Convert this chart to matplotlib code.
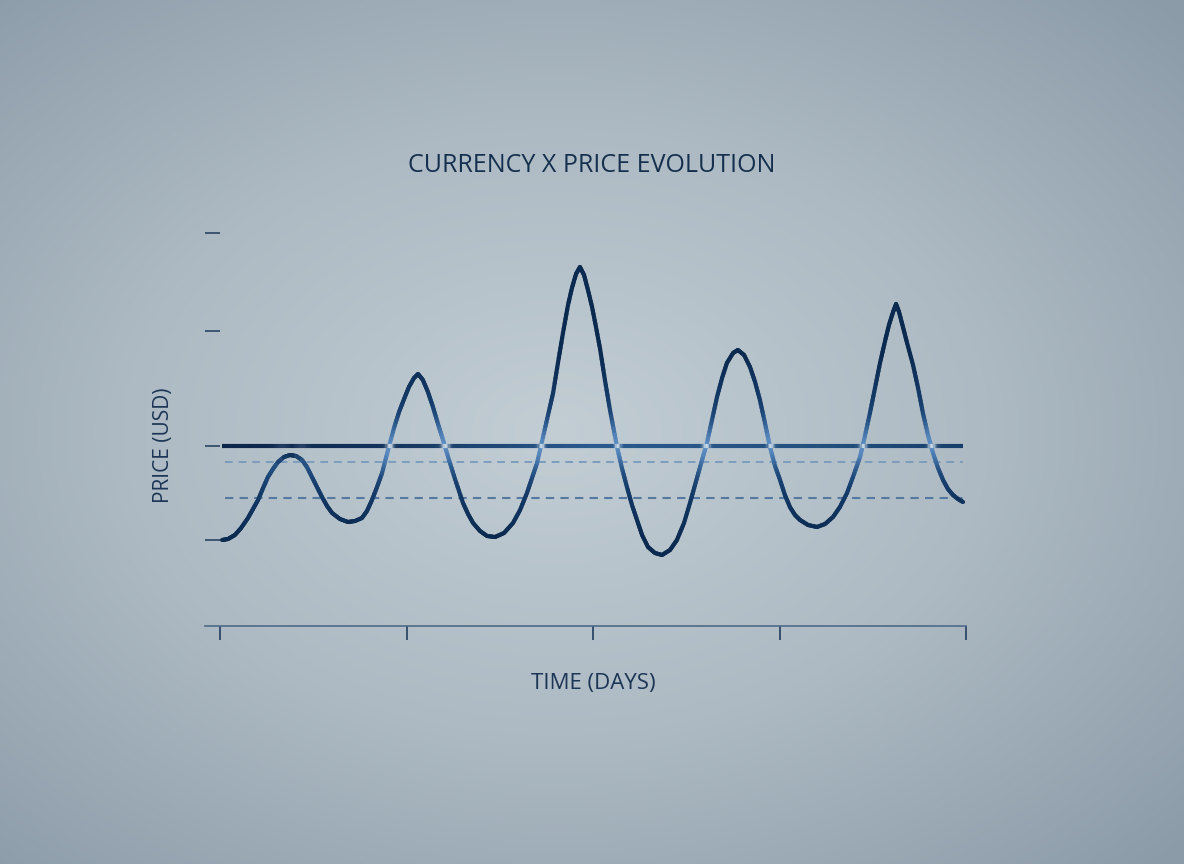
import numpy as np
import matplotlib.pyplot as plt
from matplotlib.collections import LineCollection
from matplotlib.colors import LinearSegmentedColormap, to_rgb

plt.rcParams['font.family'] = ['Open Sans', 'DejaVu Sans']

#### Data
days = [0.11, 0.43, 0.80, 1.13, 1.50, 1.77, 2.04, 2.31, 2.57, 2.84,
        3.11, 3.43, 3.75, 4.08, 4.40, 4.66, 4.93, 5.20, 5.47, 5.74,
        6.01, 6.43, 6.86, 7.24, 7.61, 7.88, 8.15, 8.42, 8.69, 9.01,
        9.33, 9.60, 9.87, 10.13, 10.40, 10.62, 10.88, 11.15, 11.42, 11.69,
        11.96, 12.23, 12.60, 13.03, 13.30, 13.57, 13.94, 14.32, 14.75, 15.23,
        15.71, 16.09, 16.46, 16.73, 17.00, 17.32, 17.59, 17.86, 18.12, 18.39,
        18.66, 18.87, 19.09, 19.30, 19.52, 19.73, 19.95, 20.16, 20.38, 20.64,
        20.91, 21.29, 21.55, 21.82, 22.09, 22.36, 22.63, 22.95, 23.32, 23.70,
        24.13, 24.50, 24.88, 25.20, 25.47, 25.74, 26.11, 26.38, 26.65, 26.92,
        27.18, 27.51, 27.77, 28.10, 28.42, 28.69, 28.95, 29.22, 29.49, 29.76,
        30.03, 30.29, 30.56, 30.83, 31.10, 31.53, 32.01, 32.44, 32.87, 33.24,
        33.62, 33.94, 34.32, 34.58, 34.85, 35.12, 35.39, 35.66, 35.87, 36.09,
        36.25, 36.41, 36.62, 36.84, 37.16, 37.43, 37.69, 37.96, 38.23, 38.50,
        38.77, 39.03, 39.30, 39.57, 39.84]
price = [90.6, 90.7, 91.1, 91.8, 92.8, 93.7, 94.6, 95.8, 96.9, 97.7,
         98.4, 98.9, 99.1, 99.0, 98.6, 97.9, 96.9, 95.9, 94.9, 94.0,
         93.3, 92.7, 92.4, 92.5, 92.8, 93.5, 94.6, 95.9, 97.3, 99.6,
         101.8, 103.4, 104.7, 105.9, 106.8, 107.2, 106.6, 105.4, 103.9, 102.2,
         100.6, 98.9, 96.7, 94.3, 93.2, 92.3, 91.5, 91.0, 90.9, 91.3,
         92.3, 93.6, 95.3, 96.8, 98.3, 100.9, 103.1, 105.3, 108.3, 111.3,
         114.1, 115.8, 117.2, 117.9, 117.1, 115.6, 113.9, 111.9, 109.7, 106.6,
         103.6, 99.9, 97.8, 95.9, 94.1, 92.6, 91.1, 89.9, 89.3, 89.1,
         89.6, 90.6, 92.3, 94.3, 96.1, 97.9, 100.3, 102.6, 104.9, 106.8,
         108.3, 109.3, 109.6, 109.1, 107.9, 106.4, 104.6, 102.3, 99.9, 98.0,
         96.6, 95.1, 93.9, 93.1, 92.6, 92.1, 91.9, 92.2, 92.9, 93.9,
         95.3, 96.9, 98.9, 101.0, 103.3, 105.8, 108.3, 110.5, 112.1, 113.4,
         114.2, 113.4, 111.9, 110.3, 108.1, 105.8, 103.3, 101.1, 99.3, 97.8,
         96.6, 95.7, 95.1, 94.7, 94.4]

ref_level = 100.0
dash_upper = 98.4
dash_lower = 94.8
x_ticks = [0, 10, 20, 30, 40]
y_ticks = [90.6, 100, 111.5, 121.3]

title = 'CURRENCY X PRICE EVOLUTION'
xlabel = 'TIME (DAYS)'
ylabel = 'PRICE (USD)'

#### Figure
W, H = 1184, 864
fig = plt.figure(figsize=(W/100, H/100), dpi=100)

# radial background
bg = fig.add_axes([0, 0, 1, 1], zorder=-10)
yy, xx = np.mgrid[0:1:400j, 0:1:540j]
r = np.sqrt(((xx-0.47)/0.75)**2 + ((yy-0.5)/0.72)**2)
bgcmap = LinearSegmentedColormap.from_list('bg', ['#c2cdd4', '#adbac3', '#8b9ba8'])
bg.imshow(r, cmap=bgcmap, aspect='auto', extent=[0, 1, 0, 1], vmin=0, vmax=0.98)
bg.axis('off')

ax = fig.add_axes([205/W, (H-626)/H, (966-205)/W, 430/H])
ax.set_xlim(-15/18.65, 40)
ax.set_ylim(82, 125)
ax.patch.set_alpha(0)

# dashed guides
ax.plot([days[0]+0.15, days[-1]], [dash_upper]*2, ls=(0, (4, 3)), lw=1.4, color='#7d9dbd', zorder=2)
ax.plot([days[0]+0.15, days[-1]], [dash_lower]*2, ls=(0, (4, 3)), lw=1.5, color='#55799f', zorder=2)

#### Price curve (each straight piece split finer only for a smooth colour ramp)
dx = np.array(days); py = np.array(price)
nsub = 6
fx, fy = [], []
for i in range(len(dx)-1):
	for k in range(nsub):
		f = k/nsub
		fx.append(dx[i]+(dx[i+1]-dx[i])*f)
		fy.append(py[i]+(py[i+1]-py[i])*f)
fx.append(dx[-1]); fy.append(py[-1])
fx = np.array(fx); fy = np.array(fy)

pts = np.column_stack([fx, fy]).reshape(-1, 1, 2)
segs = np.concatenate([pts[:-1], pts[1:]], axis=1)
mid_y = (fy[:-1]+fy[1:])/2
slope = np.abs(np.diff(fy)/np.diff(fx))
dist = np.abs(mid_y-ref_level)

dark = np.array(to_rgb('#0b2a50'))
midc = np.array(to_rgb('#1d4b80'))
light = np.array(to_rgb('#5a8cc2'))
tf = np.maximum(np.clip(dist/9, 0, 1), 1-np.clip(slope/4, 0, 1))[:, None]
cols = midc*(1-tf) + dark*tf
glow = (np.exp(-(dist/2.2)**2)*np.clip(slope/6, 0, 1))[:, None]
cols = cols*(1-glow) + light*glow
lc = LineCollection(segs, colors=cols, linewidth=3.0, capstyle='round', joinstyle='round', zorder=3)
ax.add_collection(lc)

#### Reference level, with glow where the curve crosses it steeply
xs = np.linspace(days[0], days[-1], 600)
near = np.abs(np.interp(xs, days, price) - ref_level)
steep = np.clip(np.abs(np.interp(xs, dx, np.gradient(py, dx)))/6, 0, 1)
hglow = 0.92*np.exp(-(near/1.4)**2)*steep
stops_x = [0, 8, 20, 32, 40]
stops_c = np.array([to_rgb(c) for c in ['#0b2547', '#12315a', '#2a5a8e', '#22507f', '#173d6a']])
base = np.column_stack([np.interp(xs, stops_x, stops_c[:, k]) for k in range(3)])
hlight = np.array(to_rgb('#d8e6f0'))
hcols = base*(1-hglow[:, None]) + hlight*hglow[:, None]
hp = np.column_stack([xs, np.full_like(xs, ref_level)]).reshape(-1, 1, 2)
hsegs = np.concatenate([hp[:-1], hp[1:]], axis=1)
hl = LineCollection(hsegs, colors=hcols[:-1], linewidth=3.0, capstyle='butt', zorder=4)
ax.add_collection(hl)

#### Axes styling
for s in ['top', 'right', 'left']:
	ax.spines[s].set_visible(False)
ax.spines['bottom'].set_color('#4e6a88')
ax.spines['bottom'].set_linewidth(1.2)
ax.set_xticks(x_ticks)
ax.set_xticklabels([])
ax.set_yticks(y_ticks)
ax.set_yticklabels([])
ax.tick_params(axis='x', direction='out', length=10, width=1.3, color='#2a4868')
ax.tick_params(axis='y', direction='in', length=10.5, width=1.1, color='#1e3a5c')

# texts
fig.text(592/W, 1-166/H, title, ha='center', va='center', fontsize=18, color='#15304f')
fig.text(163/W, 1-445/H, ylabel, ha='center', va='center', rotation=90, fontsize=15, color='#1c3556')
fig.text(593/W, 1-683/H, xlabel, ha='center', va='center', fontsize=16, color='#1c3556')

plt.savefig('out.png', dpi=100)
